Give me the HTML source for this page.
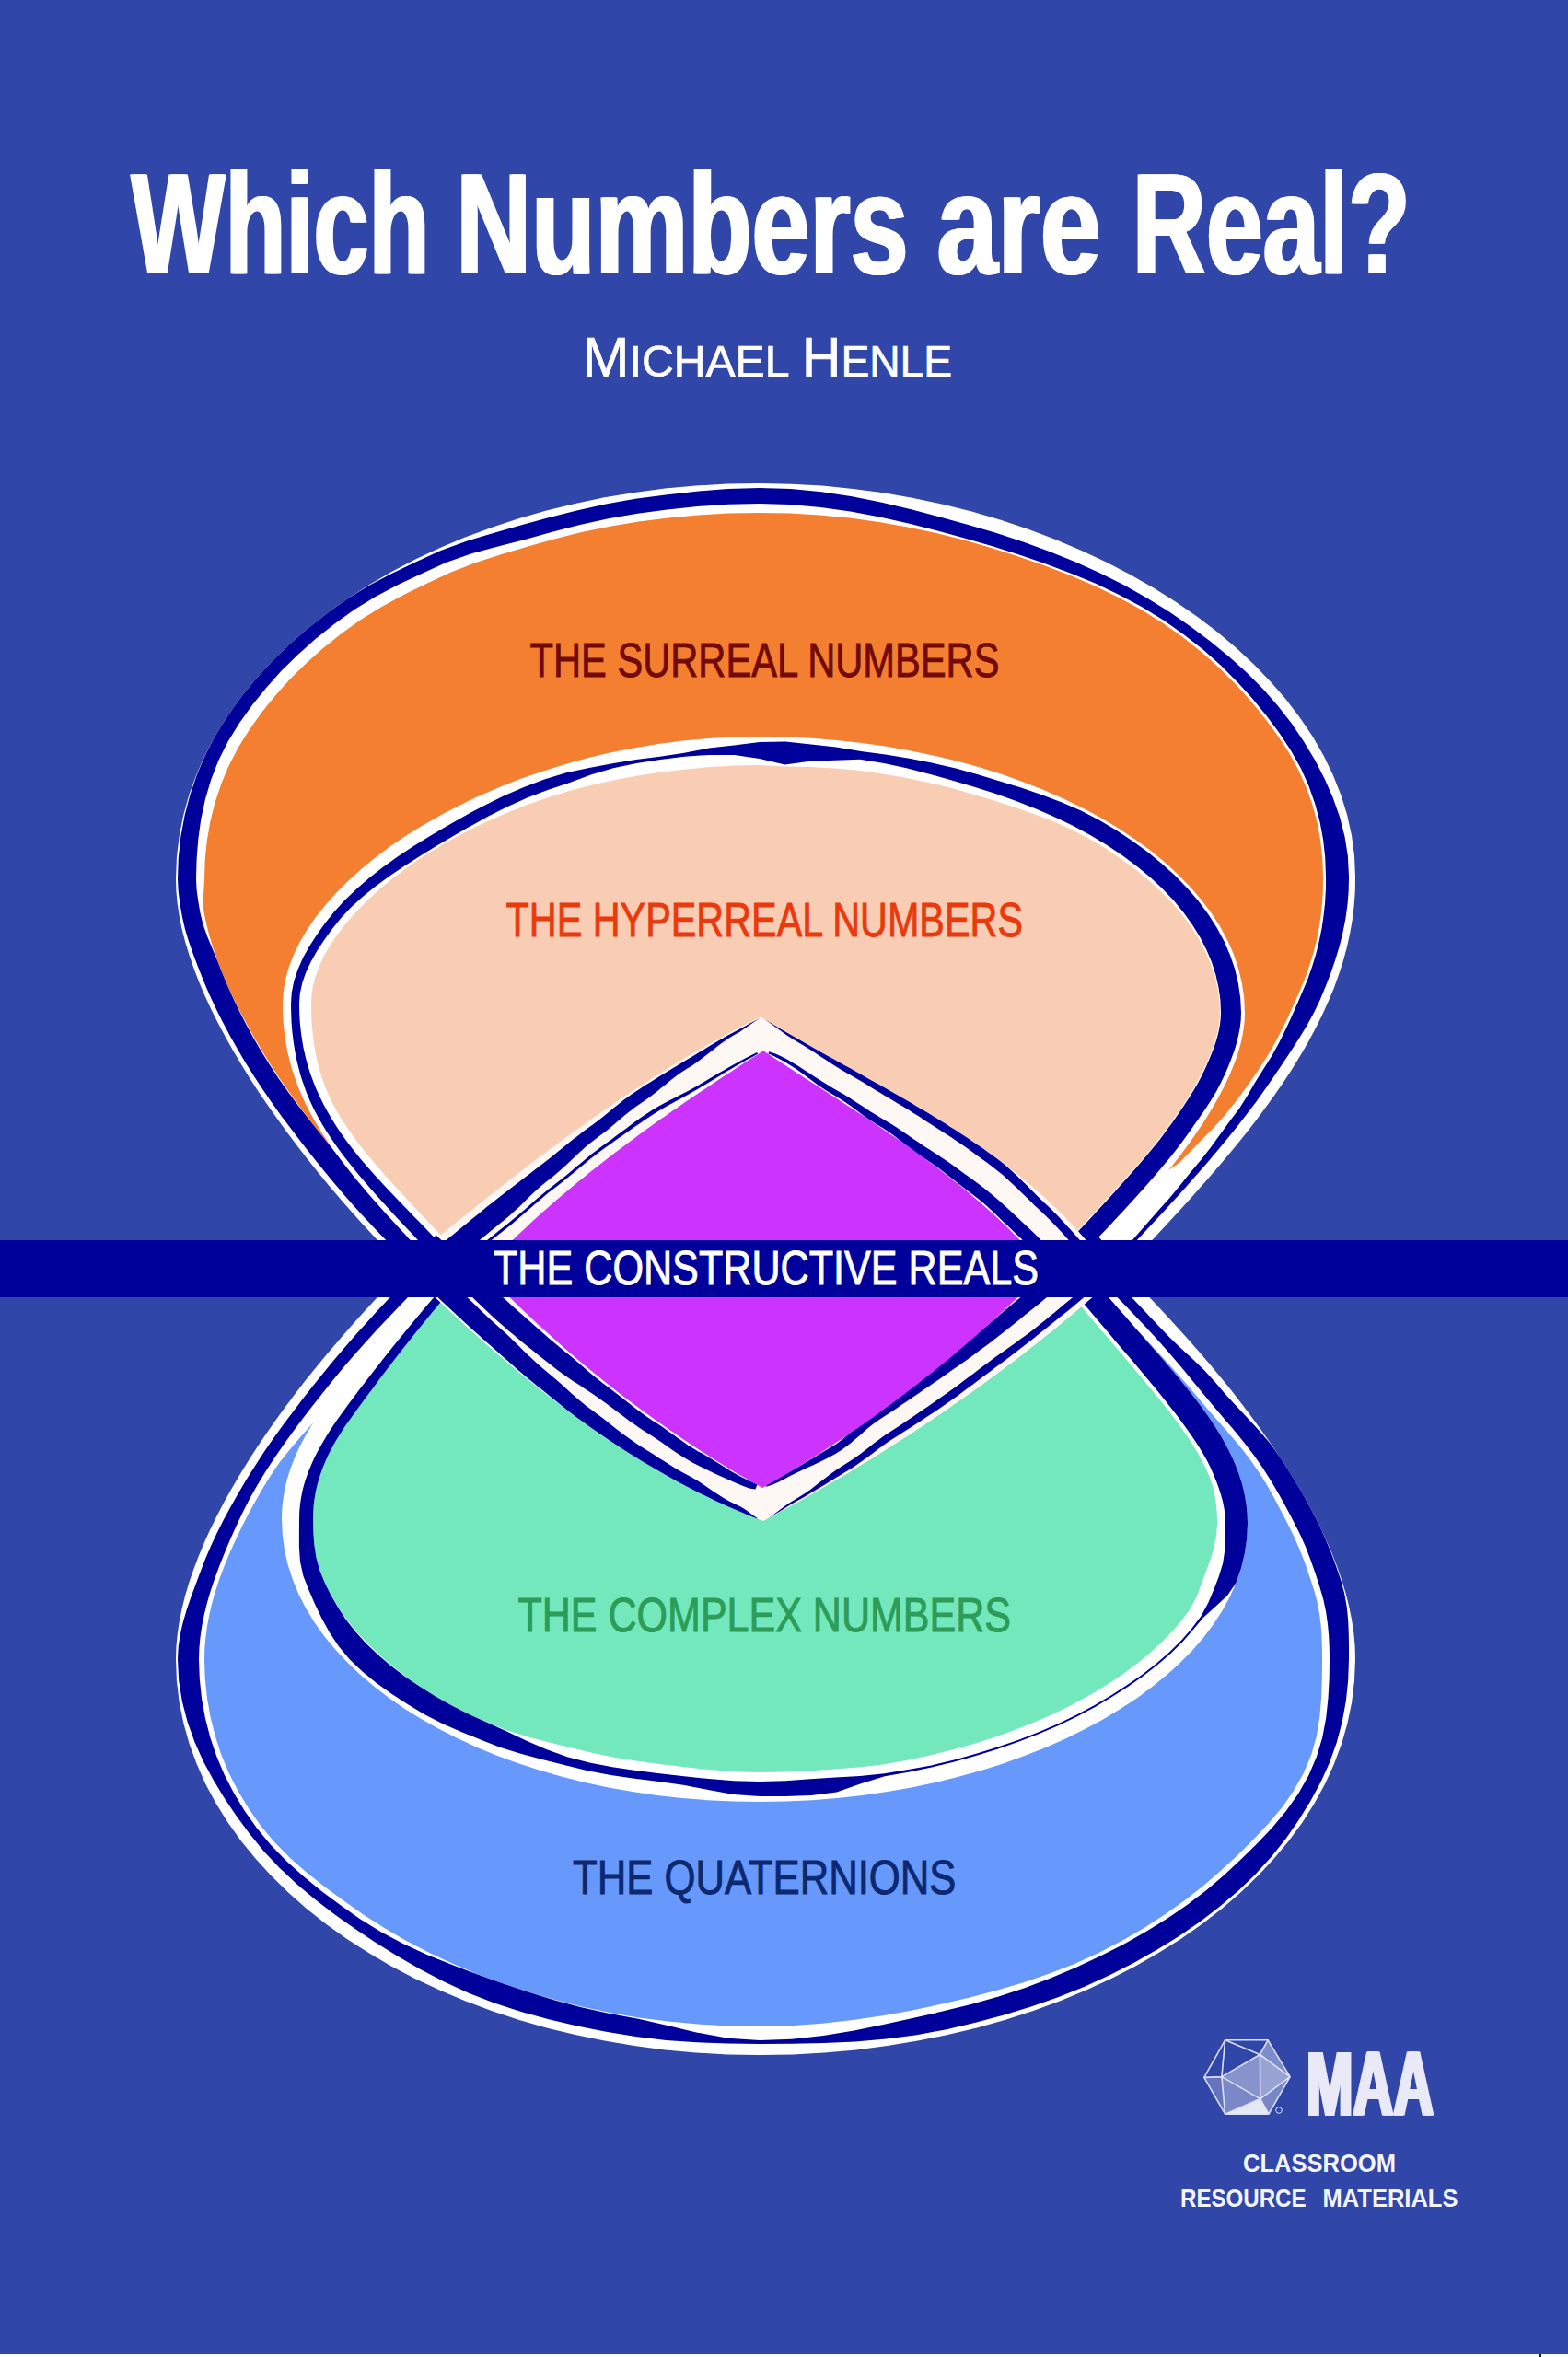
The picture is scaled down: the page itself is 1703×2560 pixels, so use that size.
<!DOCTYPE html>
<html><head><meta charset="utf-8"><title>Which Numbers are Real?</title>
<style>
html,body{margin:0;padding:0;background:#3046A8;}
body{width:1703px;height:2560px;overflow:hidden;font-family:"Liberation Sans",sans-serif;}
svg text{font-family:"Liberation Sans",sans-serif;}
</style></head><body>
<svg width="1703" height="2560" viewBox="0 0 1703 2560" style="display:block">
<rect width="1703" height="2560" fill="#3046A8"/>
<path d="M440.0 1378.0 L440.0 1378.0 L427.8 1390.4 L415.6 1403.0 L403.4 1416.0 L391.2 1429.2 L379.2 1442.7 L367.3 1456.4 L355.5 1470.3 L343.8 1484.4 L332.4 1498.6 L321.2 1513.0 L310.3 1527.6 L299.6 1542.2 L289.3 1557.0 L279.3 1571.8 L269.8 1586.6 L260.6 1601.5 L251.8 1616.4 L243.5 1631.3 L235.7 1646.2 L228.4 1661.0 L221.7 1675.7 L215.6 1690.4 L210.1 1704.9 L205.2 1719.3 L201.0 1733.6 L197.5 1747.7 L194.7 1761.6 L192.7 1775.3 L191.4 1788.8 L191.0 1802.0 L191.9 1825.5 L194.7 1848.8 L199.3 1871.6 L205.6 1894.1 L213.7 1916.1 L223.3 1937.7 L234.6 1958.8 L247.5 1979.4 L261.8 1999.4 L277.6 2018.8 L294.8 2037.6 L313.4 2055.7 L333.2 2073.2 L354.4 2089.9 L376.8 2105.9 L400.3 2121.0 L424.9 2135.4 L450.6 2148.9 L477.4 2161.5 L505.1 2173.2 L533.7 2183.9 L563.2 2193.7 L593.5 2202.4 L624.7 2210.0 L656.5 2216.6 L689.0 2222.1 L722.2 2226.4 L755.9 2229.5 L790.2 2231.4 L825.0 2232.0 L860.5 2231.4 L895.4 2229.5 L929.9 2226.4 L963.7 2222.1 L996.9 2216.6 L1029.4 2210.0 L1061.1 2202.4 L1092.1 2193.7 L1122.2 2183.9 L1151.4 2173.2 L1179.7 2161.5 L1207.0 2148.9 L1233.2 2135.4 L1258.4 2121.0 L1282.4 2105.9 L1305.2 2089.9 L1326.8 2073.2 L1347.1 2055.7 L1366.0 2037.6 L1383.6 2018.8 L1399.7 1999.4 L1414.4 1979.4 L1427.5 1958.8 L1439.0 1937.7 L1448.9 1916.1 L1457.1 1894.1 L1463.5 1871.6 L1468.2 1848.8 L1471.0 1825.5 L1472.0 1802.0 L1471.6 1787.9 L1470.3 1773.7 L1468.1 1759.3 L1465.2 1744.9 L1461.5 1730.3 L1457.1 1715.7 L1452.0 1700.9 L1446.2 1686.2 L1439.8 1671.4 L1432.8 1656.5 L1425.2 1641.7 L1417.2 1626.8 L1408.6 1612.0 L1399.5 1597.2 L1390.0 1582.5 L1380.1 1567.8 L1369.8 1553.3 L1359.2 1538.8 L1348.4 1524.4 L1337.2 1510.1 L1325.8 1496.0 L1314.2 1482.1 L1302.4 1468.3 L1290.5 1454.7 L1278.5 1441.4 L1266.4 1428.2 L1254.3 1415.3 L1242.1 1402.6 L1230.0 1390.1 L1218.0 1378.0 L1218.0 1378.0Z" fill="#FFFFFF"/>
<path d="M469.7 1378.0 L469.7 1407.7 L457.7 1419.6 L445.5 1431.5 L433.0 1443.6 L420.5 1455.7 L408.0 1468.1 L395.7 1480.8 L383.6 1493.8 L371.9 1507.2 L360.7 1520.9 L349.5 1534.6 L337.8 1547.9 L326.1 1561.1 L314.7 1574.4 L303.9 1588.0 L294.3 1602.1 L285.4 1616.5 L277.1 1630.9 L269.3 1645.3 L262.1 1659.5 L255.3 1673.7 L249.1 1687.7 L243.4 1701.5 L238.3 1715.1 L233.9 1728.4 L230.2 1741.5 L227.2 1754.4 L224.9 1766.9 L223.3 1779.0 L222.3 1790.7 L222.0 1802.0 L222.7 1823.1 L224.9 1843.9 L228.5 1864.6 L233.6 1885.1 L240.2 1905.4 L248.5 1925.4 L258.4 1945.1 L270.0 1964.3 L283.2 1983.0 L298.3 2000.9 L315.1 2018.0 L333.4 2034.1 L352.9 2049.6 L373.4 2064.6 L394.7 2079.4 L417.0 2093.8 L440.4 2107.4 L464.9 2120.2 L490.4 2132.3 L516.9 2143.5 L544.3 2153.7 L572.6 2163.2 L601.7 2171.8 L631.6 2179.6 L662.2 2186.1 L693.6 2191.4 L725.6 2195.5 L758.2 2198.6 L791.4 2200.4 L825.0 2201.0 L859.3 2200.2 L893.2 2197.8 L926.4 2194.0 L958.9 2189.2 L990.8 2183.4 L1022.0 2176.8 L1052.6 2169.7 L1082.5 2161.8 L1111.6 2153.2 L1139.9 2143.6 L1167.2 2132.9 L1193.4 2121.0 L1218.4 2108.1 L1242.3 2094.3 L1264.9 2079.6 L1286.4 2064.3 L1306.6 2048.4 L1325.6 2032.0 L1343.6 2015.4 L1360.7 1998.6 L1376.9 1981.6 L1391.7 1963.9 L1404.7 1945.4 L1415.7 1926.1 L1424.2 1905.9 L1430.0 1885.2 L1433.4 1864.2 L1435.1 1843.4 L1435.8 1822.7 L1436.0 1802.0 L1435.9 1790.1 L1435.5 1777.9 L1434.6 1765.2 L1433.0 1752.2 L1430.4 1738.9 L1426.7 1725.5 L1422.2 1711.9 L1417.4 1698.0 L1412.0 1683.9 L1405.8 1669.8 L1398.8 1655.6 L1391.4 1641.3 L1383.8 1626.8 L1375.6 1612.3 L1366.6 1597.9 L1356.8 1583.9 L1346.1 1570.3 L1334.8 1557.0 L1323.2 1543.8 L1311.6 1530.5 L1300.3 1517.0 L1288.9 1503.5 L1277.1 1490.2 L1265.3 1477.1 L1253.3 1464.2 L1241.5 1451.3 L1229.6 1438.6 L1217.7 1426.2 L1205.8 1414.0 L1194.0 1402.0 L1194.0 1378.0Z" fill="#6699FB"/>
<path d="M447.1 1385.1 L434.9 1397.3 L422.8 1409.9 L410.7 1422.8 L398.7 1435.9 L386.7 1449.3 L374.8 1462.9 L363.1 1476.7 L351.6 1490.7 L340.3 1504.8 L329.1 1519.1 L318.1 1533.4 L307.4 1547.7 L296.9 1562.2 L286.9 1576.8 L277.4 1591.4 L268.2 1606.1 L259.5 1620.8 L251.1 1635.4 L243.2 1650.0 L235.9 1664.5 L229.1 1678.9 L223.0 1693.3 L217.5 1707.6 L212.3 1721.6 L207.2 1735.3 L202.6 1748.8 L198.7 1762.3 L195.6 1775.7 L193.7 1788.9 L193.0 1802.0 L194.2 1825.4 L197.9 1848.3 L203.7 1870.6 L211.5 1892.2 L220.9 1913.2 L231.9 1933.5 L244.0 1953.4 L257.2 1972.9 L271.3 1992.1 L286.8 2010.9 L303.8 2028.9 L322.2 2046.2 L341.9 2062.8 L362.7 2078.8 L384.6 2094.3 L407.4 2109.4 L431.1 2124.2 L455.8 2138.6 L481.5 2152.1 L508.5 2164.5 L536.7 2175.4 L565.9 2184.9 L596.0 2193.3 L626.8 2200.5 L658.3 2206.8 L690.5 2212.1 L723.4 2215.9 L756.8 2218.3 L790.7 2219.6 L825.0 2220.0 L860.1 2219.8 L894.7 2219.0 L928.9 2217.4 L962.6 2214.6 L995.7 2210.3 L1028.1 2204.2 L1059.6 2196.7 L1090.5 2188.4 L1120.6 2179.2 L1149.8 2169.0 L1178.0 2157.7 L1205.2 2145.3 L1231.3 2131.9 L1256.4 2117.8 L1280.4 2103.0 L1303.3 2087.3 L1324.8 2070.8 L1345.1 2053.5 L1363.8 2035.4 L1381.0 2016.5 L1396.6 1996.9 L1410.6 1976.8 L1423.3 1956.3 L1434.5 1935.5 L1444.1 1914.2 L1451.8 1892.4 L1457.7 1870.2 L1461.8 1847.7 L1464.2 1825.0 L1465.0 1802.0 L1465.0 1788.3 L1464.8 1774.4 L1464.2 1760.0 L1462.8 1745.4 L1460.2 1730.7 L1456.2 1716.0 L1451.2 1701.2 L1445.7 1686.4 L1439.6 1671.5 L1432.8 1656.5 L1425.2 1641.7 L1417.2 1626.8 L1408.6 1612.0 L1399.5 1597.2 L1390.0 1582.5 L1379.7 1568.1 L1368.2 1554.4 L1356.0 1541.2 L1343.6 1528.1 L1331.3 1514.8 L1319.6 1501.1 L1307.5 1487.7 L1294.5 1475.2 L1281.1 1463.0 L1268.3 1450.6 L1256.1 1437.7 L1244.1 1424.9 L1232.1 1412.3 L1220.1 1400.0 L1208.1 1387.9 L1200.3 1395.7 L1212.2 1407.7 L1224.2 1419.9 L1236.1 1432.4 L1248.1 1445.2 L1260.0 1458.2 L1271.6 1471.5 L1283.1 1485.1 L1294.4 1498.8 L1305.7 1512.5 L1317.1 1526.2 L1328.6 1539.7 L1340.0 1553.1 L1351.2 1566.7 L1361.8 1580.5 L1371.6 1594.6 L1380.8 1609.0 L1389.3 1623.5 L1397.3 1638.0 L1404.9 1652.4 L1412.1 1666.7 L1418.4 1681.0 L1423.9 1695.4 L1428.8 1709.5 L1433.3 1723.4 L1437.2 1737.1 L1440.1 1750.6 L1442.0 1763.9 L1443.2 1777.0 L1443.8 1789.6 L1444.0 1802.0 L1443.7 1823.3 L1442.5 1844.6 L1440.2 1865.9 L1436.2 1887.2 L1429.9 1908.3 L1421.1 1928.8 L1409.9 1948.4 L1396.6 1967.2 L1381.6 1985.2 L1365.2 2002.6 L1347.8 2019.6 L1329.6 2036.5 L1310.3 2053.0 L1289.6 2068.8 L1267.7 2083.8 L1244.6 2098.1 L1220.4 2111.7 L1195.1 2124.6 L1168.9 2136.8 L1141.7 2148.3 L1113.5 2158.9 L1084.5 2168.5 L1054.5 2177.1 L1023.7 2184.6 L992.3 2191.7 L960.3 2198.8 L927.6 2205.5 L894.1 2211.0 L859.9 2214.7 L825.0 2216.0 L790.9 2213.7 L757.5 2207.7 L725.1 2200.0 L693.4 2192.8 L662.0 2187.1 L631.4 2180.3 L601.6 2172.2 L572.6 2163.3 L544.3 2153.7 L516.8 2143.8 L489.8 2133.6 L463.6 2122.9 L438.2 2111.3 L414.1 2098.5 L391.4 2084.4 L369.8 2069.3 L349.2 2054.0 L329.7 2038.1 L311.3 2021.6 L294.4 2004.3 L279.3 1986.0 L265.8 1967.1 L254.0 1947.6 L243.8 1927.7 L235.2 1907.4 L228.2 1886.8 L222.9 1866.0 L219.1 1844.9 L216.8 1823.6 L216.0 1802.0 L216.4 1790.3 L217.5 1778.3 L219.3 1765.9 L221.9 1753.2 L225.1 1740.2 L229.0 1726.9 L233.6 1713.4 L238.8 1699.6 L244.4 1685.6 L250.4 1671.3 L256.8 1656.9 L263.8 1642.3 L271.3 1627.6 L279.5 1612.9 L288.3 1598.4 L297.8 1583.9 L307.7 1569.6 L318.0 1555.3 L328.6 1541.1 L339.4 1527.0 L350.5 1512.9 L361.7 1498.9 L373.2 1485.1 L384.9 1471.5 L396.7 1458.2 L408.7 1445.0 L420.8 1432.2 L432.9 1419.5 L444.9 1407.1 L457.0 1395.0Z" fill="#00009A"/>
<path d="M478.0 1378.0 L478.0 1378.0 L468.3 1389.2 L458.7 1400.2 L449.4 1410.9 L440.2 1421.3 L431.2 1431.5 L422.5 1441.4 L414.0 1451.2 L405.7 1460.7 L397.6 1470.0 L389.9 1479.2 L382.3 1488.2 L375.1 1497.1 L368.2 1505.8 L361.6 1514.5 L355.2 1523.0 L349.3 1531.5 L343.6 1539.9 L338.3 1548.2 L333.4 1556.5 L328.8 1564.8 L324.6 1573.1 L320.8 1581.4 L317.5 1589.7 L314.5 1598.1 L311.9 1606.5 L309.8 1615.0 L308.2 1623.6 L307.0 1632.3 L306.2 1641.1 L306.0 1650.0 L306.8 1666.9 L309.0 1683.5 L312.8 1699.9 L318.0 1716.0 L324.5 1731.8 L332.4 1747.2 L341.6 1762.3 L352.1 1777.0 L363.9 1791.3 L376.8 1805.1 L390.8 1818.6 L406.0 1831.5 L422.3 1843.9 L439.6 1855.9 L457.9 1867.2 L477.1 1878.1 L497.3 1888.3 L518.3 1897.9 L540.2 1906.9 L562.9 1915.2 L586.3 1922.8 L610.5 1929.7 L635.3 1935.9 L660.8 1941.4 L686.9 1946.1 L713.6 1949.9 L740.7 1953.0 L768.4 1955.2 L796.5 1956.5 L825.0 1957.0 L853.5 1956.5 L881.6 1955.2 L909.3 1953.0 L936.7 1950.0 L963.6 1946.1 L989.9 1941.4 L1015.8 1936.0 L1041.0 1929.8 L1065.6 1923.0 L1089.5 1915.4 L1112.7 1907.1 L1135.1 1898.2 L1156.7 1888.7 L1177.4 1878.6 L1197.2 1867.9 L1216.1 1856.6 L1234.0 1844.9 L1250.8 1832.6 L1266.5 1819.8 L1281.1 1806.6 L1294.6 1793.0 L1306.8 1779.0 L1317.7 1764.5 L1327.3 1749.8 L1335.6 1734.7 L1342.5 1719.2 L1347.9 1703.6 L1351.8 1687.6 L1354.2 1671.4 L1355.0 1655.0 L1354.7 1645.6 L1353.9 1636.3 L1352.5 1627.2 L1350.7 1618.2 L1348.3 1609.3 L1345.4 1600.5 L1342.1 1591.7 L1338.3 1583.1 L1334.2 1574.4 L1329.6 1565.9 L1324.6 1557.3 L1319.2 1548.7 L1313.5 1540.1 L1307.4 1531.5 L1301.0 1522.9 L1294.3 1514.2 L1287.3 1505.4 L1280.0 1496.5 L1272.5 1487.6 L1264.8 1478.5 L1256.8 1469.3 L1248.6 1459.9 L1240.3 1450.4 L1231.7 1440.7 L1223.1 1430.8 L1214.2 1420.7 L1205.3 1410.4 L1196.3 1399.9 L1187.2 1389.1 L1178.0 1378.0 L1178.0 1378.0Z" fill="#FFFFFF"/>
<path d="M496.2 1378.0 L496.2 1393.6 L486.5 1405.0 L477.0 1416.2 L467.9 1427.2 L459.1 1437.9 L450.6 1448.5 L442.3 1458.9 L434.4 1469.0 L426.7 1478.9 L419.4 1488.6 L412.2 1498.0 L405.4 1507.2 L398.8 1516.1 L392.4 1524.7 L386.3 1533.1 L380.4 1541.2 L374.8 1549.1 L369.7 1556.9 L365.0 1564.6 L360.7 1572.2 L356.9 1579.6 L353.5 1587.0 L350.5 1594.2 L348.0 1601.4 L345.8 1608.4 L344.0 1615.3 L342.5 1622.2 L341.4 1629.1 L340.6 1636.0 L340.2 1642.9 L340.0 1650.0 L340.3 1663.8 L341.3 1677.6 L343.4 1691.5 L347.1 1705.2 L352.6 1718.7 L359.3 1732.1 L367.2 1745.4 L376.2 1758.5 L386.5 1771.4 L398.1 1784.0 L410.9 1796.3 L424.7 1808.4 L439.6 1820.1 L455.5 1831.5 L472.6 1842.3 L490.8 1852.5 L509.9 1862.2 L529.9 1871.3 L550.9 1879.4 L572.9 1886.2 L595.7 1892.2 L619.0 1898.0 L642.8 1903.8 L667.2 1908.7 L692.3 1912.8 L717.9 1916.2 L744.0 1919.3 L770.5 1922.1 L797.5 1924.2 L825.0 1925.0 L852.4 1924.6 L879.5 1923.3 L906.3 1921.4 L932.8 1919.5 L958.8 1916.5 L984.3 1912.0 L1009.1 1906.8 L1033.4 1900.8 L1057.0 1894.2 L1080.0 1886.9 L1102.1 1879.0 L1123.5 1870.5 L1144.1 1861.5 L1163.7 1851.9 L1182.4 1841.8 L1200.2 1831.2 L1216.9 1820.2 L1232.5 1808.8 L1247.0 1797.0 L1260.4 1785.0 L1272.6 1772.6 L1283.5 1760.0 L1293.0 1747.1 L1300.0 1733.4 L1305.2 1719.6 L1309.9 1706.4 L1314.6 1693.7 L1318.4 1681.0 L1321.0 1668.1 L1322.0 1655.0 L1321.9 1647.5 L1321.5 1640.2 L1320.7 1632.9 L1319.6 1625.6 L1318.1 1618.2 L1316.0 1610.8 L1313.4 1603.4 L1310.2 1596.0 L1306.6 1588.6 L1302.5 1581.0 L1298.0 1573.3 L1293.2 1565.6 L1287.9 1557.7 L1282.3 1549.7 L1276.3 1541.6 L1269.9 1533.3 L1263.3 1524.8 L1256.3 1516.2 L1249.1 1507.4 L1241.7 1498.4 L1233.9 1489.2 L1226.0 1479.8 L1217.8 1470.1 L1209.4 1460.3 L1200.9 1450.3 L1192.1 1440.0 L1183.2 1429.5 L1174.1 1418.7 L1164.9 1407.7 L1155.6 1396.4 L1155.6 1378.0Z" fill="#73E8BC"/>
<path d="M489.4 1387.8 L479.7 1399.1 L470.2 1410.2 L461.0 1421.1 L452.1 1431.8 L443.4 1442.2 L435.0 1452.5 L426.9 1462.5 L419.1 1472.3 L411.5 1481.9 L404.2 1491.3 L397.1 1500.4 L390.3 1509.3 L383.8 1518.0 L377.5 1526.5 L371.5 1534.7 L365.7 1542.8 L360.3 1550.8 L355.3 1558.6 L350.6 1566.4 L346.3 1574.0 L342.3 1581.6 L338.8 1589.2 L335.6 1596.7 L332.9 1604.1 L330.5 1611.6 L328.5 1619.1 L327.0 1626.7 L325.9 1634.4 L325.2 1642.1 L325.0 1650.0 L324.9 1665.2 L324.9 1680.6 L326.0 1696.3 L329.4 1711.8 L335.3 1726.8 L341.9 1741.9 L349.2 1757.3 L357.7 1772.8 L367.8 1787.9 L379.7 1802.2 L393.6 1815.5 L408.9 1828.0 L425.3 1839.8 L442.7 1851.0 L460.9 1862.1 L480.3 1872.1 L500.9 1880.9 L521.9 1889.6 L543.6 1898.0 L566.4 1905.1 L589.8 1911.3 L613.8 1917.3 L638.3 1923.2 L663.4 1928.0 L689.2 1931.8 L715.5 1935.1 L742.1 1938.7 L769.1 1943.9 L796.7 1948.9 L825.0 1951.0 L853.3 1950.9 L881.3 1950.1 L908.7 1946.6 L935.1 1937.3 L960.9 1929.3 L986.7 1924.7 L1012.0 1919.4 L1036.7 1913.4 L1060.8 1906.8 L1084.2 1899.5 L1106.9 1891.6 L1128.8 1883.1 L1149.9 1874.0 L1170.1 1864.3 L1189.4 1854.0 L1207.7 1843.1 L1225.1 1832.0 L1241.5 1820.4 L1256.9 1808.5 L1271.1 1796.2 L1284.2 1783.4 L1295.9 1770.1 L1306.8 1756.9 L1319.8 1745.2 L1332.9 1733.3 L1342.4 1719.2 L1347.9 1703.6 L1351.8 1687.6 L1354.2 1671.4 L1355.0 1655.0 L1354.7 1645.6 L1353.9 1636.3 L1352.5 1627.2 L1350.7 1618.2 L1348.3 1609.3 L1345.4 1600.5 L1342.1 1591.7 L1338.3 1583.1 L1334.2 1574.4 L1329.6 1565.9 L1324.6 1557.3 L1319.2 1548.7 L1313.5 1540.1 L1307.4 1531.5 L1301.0 1522.9 L1294.3 1514.2 L1287.3 1505.4 L1280.0 1496.5 L1272.5 1487.6 L1264.8 1478.5 L1256.8 1469.3 L1248.6 1459.9 L1240.3 1450.4 L1231.7 1440.7 L1223.1 1430.8 L1214.2 1420.7 L1205.3 1410.4 L1196.3 1399.9 L1187.2 1389.1 L1178.0 1378.0 L1158.7 1393.9 L1168.0 1405.1 L1177.2 1416.1 L1186.2 1426.8 L1195.1 1437.3 L1203.9 1447.6 L1212.4 1457.7 L1220.8 1467.5 L1229.0 1477.1 L1237.0 1486.5 L1244.7 1495.8 L1252.2 1504.8 L1259.4 1513.6 L1266.4 1522.3 L1273.1 1530.8 L1279.5 1539.1 L1285.5 1547.3 L1291.3 1555.3 L1296.8 1563.2 L1301.9 1571.0 L1306.6 1578.7 L1310.9 1586.3 L1314.7 1593.9 L1318.0 1601.5 L1321.1 1609.0 L1323.8 1616.5 L1326.2 1624.0 L1328.2 1631.5 L1329.7 1639.2 L1330.7 1647.0 L1331.0 1655.0 L1330.9 1669.1 L1330.3 1683.4 L1328.2 1697.7 L1323.9 1711.9 L1318.4 1726.2 L1312.3 1740.8 L1304.5 1755.2 L1294.3 1768.8 L1282.7 1782.0 L1269.7 1794.7 L1255.6 1807.0 L1240.3 1818.9 L1223.9 1830.3 L1206.6 1841.4 L1188.4 1852.2 L1169.2 1862.5 L1149.1 1872.2 L1128.0 1881.3 L1106.2 1889.8 L1083.5 1897.6 L1060.2 1904.8 L1036.2 1911.5 L1011.5 1917.4 L986.2 1922.1 L960.4 1926.3 L934.0 1929.1 L907.2 1930.5 L880.1 1932.3 L852.7 1934.2 L825.0 1935.0 L797.2 1934.2 L769.9 1932.1 L743.0 1929.2 L716.6 1926.2 L690.7 1922.9 L665.2 1919.2 L640.3 1914.4 L616.2 1908.3 L593.3 1900.1 L571.4 1890.5 L550.4 1880.6 L529.9 1871.3 L509.9 1862.2 L490.8 1852.5 L472.6 1842.3 L455.5 1831.6 L439.3 1820.5 L424.2 1808.9 L410.3 1797.0 L397.4 1784.7 L385.9 1772.0 L375.7 1758.9 L366.9 1745.6 L359.2 1732.2 L352.6 1718.7 L347.1 1705.2 L343.4 1691.5 L341.3 1677.6 L340.3 1663.8 L340.0 1650.0 L340.2 1642.9 L340.6 1636.0 L341.4 1629.1 L342.5 1622.2 L344.0 1615.3 L345.8 1608.4 L348.0 1601.4 L350.5 1594.2 L353.5 1587.0 L356.9 1579.6 L360.7 1572.2 L365.0 1564.6 L369.7 1556.9 L374.8 1549.1 L380.4 1541.2 L386.3 1533.1 L392.4 1524.7 L398.8 1516.1 L405.4 1507.2 L412.2 1498.0 L419.4 1488.6 L426.7 1478.9 L434.4 1469.0 L442.3 1458.9 L450.6 1448.5 L459.1 1437.9 L467.9 1427.2 L477.0 1416.2 L486.5 1405.0 L496.2 1393.6Z" fill="#00009A"/>
<path d="M440.0 1378.0 L440.0 1378.0 L428.2 1366.0 L416.3 1353.7 L404.4 1341.0 L392.4 1328.0 L380.6 1314.7 L368.8 1301.2 L357.1 1287.4 L345.6 1273.4 L334.2 1259.2 L323.0 1244.8 L312.1 1230.2 L301.4 1215.6 L291.0 1200.8 L280.9 1185.9 L271.2 1171.0 L262.0 1156.0 L253.1 1141.1 L244.7 1126.1 L236.7 1111.1 L229.3 1096.2 L222.5 1081.4 L216.2 1066.7 L210.6 1052.1 L205.6 1037.6 L201.2 1023.3 L197.6 1009.2 L194.8 995.2 L192.7 981.6 L191.4 968.1 L191.0 955.0 L191.9 931.4 L194.7 908.1 L199.3 885.1 L205.6 862.6 L213.7 840.5 L223.3 818.9 L234.6 797.8 L247.5 777.2 L261.8 757.2 L277.6 737.7 L294.8 719.0 L313.4 700.8 L333.2 683.4 L354.4 666.7 L376.8 650.8 L400.3 635.6 L424.9 621.3 L450.6 607.8 L477.4 595.2 L505.1 583.6 L533.7 572.9 L563.2 563.2 L593.5 554.5 L624.7 546.9 L656.5 540.3 L689.0 534.9 L722.2 530.6 L755.9 527.5 L790.2 525.6 L825.0 525.0 L859.2 525.7 L893.0 527.6 L926.5 530.9 L959.5 535.3 L992.0 540.9 L1024.0 547.7 L1055.4 555.6 L1086.1 564.5 L1116.0 574.5 L1145.2 585.5 L1173.5 597.4 L1200.9 610.2 L1227.4 623.9 L1252.8 638.4 L1277.1 653.8 L1300.3 669.8 L1322.3 686.6 L1343.0 704.1 L1362.5 722.2 L1380.5 740.9 L1397.1 760.1 L1412.2 779.9 L1425.7 800.1 L1437.6 820.8 L1447.9 841.9 L1456.4 863.4 L1463.1 885.1 L1468.0 907.2 L1471.0 929.5 L1472.0 952.0 L1471.8 967.7 L1470.7 983.3 L1468.8 998.8 L1466.1 1014.2 L1462.7 1029.4 L1458.6 1044.5 L1453.7 1059.5 L1448.3 1074.4 L1442.1 1089.1 L1435.4 1103.8 L1428.1 1118.3 L1420.3 1132.8 L1412.0 1147.1 L1403.1 1161.4 L1393.9 1175.5 L1384.2 1189.6 L1374.1 1203.5 L1363.7 1217.4 L1353.0 1231.2 L1341.9 1244.9 L1330.6 1258.5 L1319.1 1272.1 L1307.3 1285.5 L1295.4 1298.9 L1283.4 1312.3 L1271.2 1325.5 L1258.9 1338.7 L1246.6 1351.9 L1234.3 1365.0 L1222.0 1378.0 L1222.0 1378.0Z" fill="#FFFFFF"/>
<path d="M472.5 1378.0 L472.5 1345.5 L460.6 1334.4 L447.8 1323.7 L434.4 1313.1 L421.0 1302.2 L408.1 1290.5 L396.1 1277.7 L383.2 1265.6 L368.8 1254.5 L356.2 1241.8 L345.2 1227.8 L334.4 1213.7 L323.7 1199.6 L313.4 1185.3 L303.5 1171.0 L294.0 1156.5 L285.0 1142.0 L276.5 1127.6 L268.4 1113.1 L260.8 1098.8 L253.7 1084.5 L247.2 1070.4 L241.2 1056.5 L235.9 1042.8 L231.3 1029.3 L227.3 1016.0 L224.0 1003.1 L221.4 990.5 L220.5 978.1 L221.4 966.2 L222.0 955.0 L222.7 933.8 L224.8 912.9 L228.4 892.1 L233.6 871.6 L240.3 851.3 L248.7 831.3 L258.9 811.8 L270.7 792.8 L284.0 774.1 L298.6 755.9 L314.6 738.1 L331.9 720.9 L350.6 704.3 L370.6 688.3 L391.9 673.1 L414.6 658.9 L438.5 645.9 L463.5 633.7 L489.2 621.8 L516.1 611.3 L544.0 602.2 L572.6 593.7 L601.8 585.4 L631.7 578.1 L662.4 571.8 L693.7 566.5 L725.7 562.4 L758.3 559.4 L791.4 557.6 L825.0 557.0 L857.9 557.6 L890.5 559.5 L922.8 562.6 L954.6 566.9 L986.0 572.4 L1016.8 578.9 L1047.0 586.5 L1076.5 595.0 L1105.5 604.2 L1133.8 614.1 L1161.4 624.6 L1188.2 636.0 L1214.1 648.4 L1238.8 661.8 L1262.2 676.3 L1284.3 691.8 L1305.0 708.2 L1324.2 725.3 L1342.0 743.0 L1358.3 761.1 L1373.3 779.4 L1387.0 797.9 L1399.4 816.5 L1409.9 835.5 L1418.6 854.8 L1425.5 874.3 L1430.7 893.7 L1434.2 913.2 L1436.3 932.6 L1437.0 952.4 L1436.9 966.3 L1436.1 980.0 L1434.7 993.8 L1432.6 1007.5 L1429.9 1021.2 L1426.5 1034.9 L1422.3 1048.6 L1417.5 1062.3 L1411.9 1075.9 L1405.8 1089.6 L1399.5 1103.4 L1392.8 1117.3 L1385.6 1131.3 L1377.7 1145.1 L1369.0 1158.8 L1359.7 1172.3 L1350.0 1185.7 L1339.9 1199.2 L1329.4 1212.5 L1317.8 1225.2 L1305.6 1237.5 L1293.4 1250.0 L1281.3 1262.6 L1266.4 1272.9 L1251.3 1283.1 L1238.7 1295.6 L1225.7 1307.7 L1212.0 1319.4 L1198.5 1331.1 L1185.7 1343.6 L1185.7 1378.0Z" fill="#F47F31"/>
<path d="M444.9 1373.1 L433.1 1361.2 L421.2 1349.0 L409.1 1336.6 L397.1 1323.8 L385.1 1310.7 L373.3 1297.3 L361.7 1283.5 L350.2 1269.6 L338.9 1255.4 L327.7 1241.2 L316.7 1226.8 L305.8 1212.4 L295.3 1197.8 L285.2 1183.1 L275.5 1168.3 L266.2 1153.4 L257.4 1138.6 L249.1 1123.7 L241.2 1108.8 L233.8 1094.1 L227.1 1079.4 L220.8 1064.8 L215.2 1050.4 L209.8 1036.2 L204.9 1022.2 L200.8 1008.4 L197.7 994.7 L195.4 981.2 L193.7 968.0 L193.0 955.0 L193.8 931.5 L196.4 908.3 L200.6 885.4 L206.5 862.9 L214.1 840.7 L223.5 819.0 L234.6 797.8 L247.5 777.2 L261.8 757.2 L277.6 737.7 L294.8 719.0 L313.4 700.8 L333.2 683.4 L354.4 666.7 L376.8 650.8 L400.6 636.1 L425.8 622.8 L451.9 610.3 L478.6 598.1 L506.7 587.7 L535.8 578.9 L565.5 570.6 L595.6 562.2 L626.4 554.4 L657.8 547.5 L690.1 541.8 L723.0 537.4 L756.4 533.7 L790.4 531.0 L825.0 530.0 L858.9 531.1 L892.5 534.3 L925.5 539.3 L957.9 545.7 L989.7 553.2 L1020.8 561.4 L1051.5 570.0 L1081.6 578.8 L1111.1 588.5 L1139.8 599.0 L1167.8 610.3 L1194.9 622.5 L1221.0 635.6 L1246.1 649.7 L1270.0 664.6 L1292.7 680.3 L1314.4 696.5 L1334.9 713.3 L1354.1 730.6 L1372.0 748.6 L1388.4 767.2 L1403.2 786.3 L1416.4 805.9 L1428.3 825.8 L1438.7 845.9 L1447.7 866.4 L1455.0 887.3 L1460.5 908.5 L1463.9 930.1 L1465.0 952.1 L1464.7 967.4 L1463.5 982.6 L1461.4 997.7 L1458.5 1012.6 L1454.8 1027.4 L1450.4 1042.1 L1445.5 1056.6 L1439.9 1071.1 L1433.9 1085.5 L1427.1 1099.8 L1419.5 1113.8 L1411.1 1127.6 L1402.3 1141.3 L1393.2 1155.0 L1383.9 1168.8 L1374.4 1182.6 L1364.5 1196.4 L1354.2 1210.1 L1343.6 1223.7 L1332.6 1237.3 L1321.4 1250.8 L1310.0 1264.2 L1298.3 1277.6 L1286.5 1290.9 L1274.5 1304.2 L1262.4 1317.4 L1250.2 1330.6 L1237.9 1343.7 L1225.6 1356.7 L1213.3 1369.8 L1211.1 1367.7 L1223.2 1354.5 L1235.1 1341.1 L1246.9 1327.5 L1258.7 1314.1 L1270.7 1300.7 L1282.0 1286.9 L1293.2 1273.1 L1304.6 1259.6 L1315.3 1245.7 L1325.6 1231.5 L1335.8 1217.6 L1346.0 1203.9 L1355.1 1189.5 L1363.5 1175.0 L1372.3 1161.0 L1381.0 1147.2 L1388.8 1133.2 L1395.9 1119.1 L1402.4 1104.9 L1408.6 1090.9 L1414.6 1077.1 L1420.3 1063.4 L1425.2 1049.6 L1429.4 1035.8 L1432.8 1021.9 L1435.6 1008.1 L1437.6 994.2 L1439.1 980.3 L1439.9 966.4 L1440.0 952.4 L1439.3 932.3 L1437.2 912.7 L1433.6 893.0 L1428.3 873.3 L1421.4 853.6 L1412.6 834.1 L1401.9 814.9 L1389.4 796.1 L1375.6 777.5 L1360.5 759.1 L1344.1 740.9 L1326.2 723.1 L1306.9 705.8 L1286.1 689.4 L1263.9 673.8 L1240.3 659.2 L1215.4 645.9 L1189.4 633.6 L1162.4 622.4 L1134.6 612.0 L1106.2 602.3 L1077.1 593.1 L1047.5 584.5 L1017.4 576.2 L986.7 568.4 L955.5 561.4 L923.6 555.5 L891.2 550.9 L858.3 548.0 L825.0 547.0 L791.0 547.8 L757.6 550.0 L724.7 553.4 L692.4 557.7 L660.8 563.2 L629.9 570.0 L599.7 577.7 L570.2 585.9 L540.9 593.4 L512.1 601.3 L484.4 610.9 L458.1 622.9 L432.5 635.1 L407.9 648.0 L384.6 662.3 L362.8 677.9 L342.3 694.3 L323.1 711.4 L305.2 729.1 L288.8 747.4 L273.6 766.2 L259.9 785.5 L247.7 805.3 L237.4 825.8 L229.2 846.8 L222.9 868.2 L218.3 889.7 L215.3 911.3 L213.6 933.1 L213.0 955.0 L213.6 966.7 L215.3 978.8 L217.4 991.2 L220.5 1003.9 L225.0 1016.7 L230.3 1029.6 L235.8 1042.8 L241.2 1056.5 L247.1 1070.5 L253.5 1084.7 L260.4 1099.0 L267.8 1113.4 L275.7 1128.0 L284.2 1142.5 L293.2 1157.1 L302.7 1171.5 L312.8 1185.7 L323.3 1199.9 L334.2 1213.9 L345.1 1227.8 L356.2 1241.8 L367.5 1255.6 L379.2 1268.9 L390.8 1282.3 L402.4 1295.5 L414.3 1308.2 L426.3 1320.6 L438.4 1332.6 L450.3 1344.5 L461.9 1356.1Z" fill="#00009A"/>
<path d="M475.0 1378.0 L475.0 1378.0 L464.7 1367.1 L454.7 1356.5 L445.0 1346.2 L435.6 1336.0 L426.4 1326.1 L417.6 1316.4 L409.0 1306.8 L400.8 1297.4 L392.8 1288.1 L385.2 1278.9 L377.9 1269.8 L370.9 1260.8 L364.3 1251.8 L358.0 1242.9 L352.0 1234.0 L346.4 1225.1 L341.1 1216.2 L336.2 1207.2 L331.6 1198.2 L327.4 1189.1 L323.6 1179.9 L320.2 1170.6 L317.1 1161.2 L314.5 1151.6 L312.2 1141.9 L310.4 1132.0 L308.9 1121.8 L307.8 1111.5 L307.2 1100.9 L307.0 1090.0 L307.8 1076.8 L310.1 1063.5 L313.9 1050.0 L319.1 1036.5 L325.7 1023.0 L333.7 1009.5 L343.0 996.1 L353.6 982.8 L365.4 969.6 L378.4 956.6 L392.6 943.8 L407.8 931.3 L424.2 919.1 L441.5 907.3 L459.9 895.9 L479.2 884.9 L499.4 874.4 L520.4 864.4 L542.3 854.9 L564.9 846.1 L588.3 837.9 L612.4 830.4 L637.1 823.6 L662.5 817.6 L688.4 812.4 L714.8 808.0 L741.7 804.6 L769.1 802.1 L796.9 800.5 L825.0 800.0 L853.3 800.4 L881.4 801.8 L909.0 803.9 L936.2 807.0 L963.0 810.8 L989.2 815.4 L1014.9 820.7 L1040.1 826.8 L1064.5 833.6 L1088.3 841.1 L1111.3 849.3 L1133.6 858.1 L1155.1 867.5 L1175.7 877.5 L1195.4 888.1 L1214.1 899.3 L1231.9 910.9 L1248.6 923.1 L1264.2 935.8 L1278.7 948.9 L1292.0 962.4 L1304.1 976.4 L1315.0 990.7 L1324.6 1005.4 L1332.8 1020.5 L1339.6 1035.8 L1344.9 1051.5 L1348.8 1067.4 L1351.2 1083.6 L1352.0 1100.0 L1351.7 1108.1 L1350.8 1116.4 L1349.4 1124.8 L1347.5 1133.5 L1345.0 1142.3 L1342.0 1151.2 L1338.5 1160.2 L1334.6 1169.4 L1330.2 1178.7 L1325.4 1188.1 L1320.2 1197.5 L1314.6 1207.1 L1308.6 1216.7 L1302.3 1226.3 L1295.6 1236.0 L1288.6 1245.7 L1281.4 1255.4 L1273.8 1265.2 L1266.0 1274.9 L1257.9 1284.6 L1249.6 1294.3 L1241.1 1303.9 L1232.5 1313.5 L1223.6 1323.0 L1214.6 1332.4 L1205.5 1341.7 L1196.2 1351.0 L1186.9 1360.1 L1177.5 1369.1 L1168.0 1378.0 L1168.0 1378.0Z" fill="#FFFFFF"/>
<path d="M495.3 1378.0 L495.3 1358.8 L485.1 1347.9 L475.1 1337.4 L465.3 1327.2 L455.9 1317.2 L446.7 1307.5 L437.9 1298.1 L429.3 1288.8 L421.1 1279.8 L413.3 1270.9 L405.7 1262.1 L398.6 1253.5 L391.8 1245.0 L385.4 1236.5 L379.4 1228.1 L373.8 1219.8 L368.6 1211.5 L363.9 1203.2 L359.6 1194.9 L355.8 1186.5 L352.4 1178.2 L349.4 1169.8 L346.9 1161.4 L344.7 1152.9 L342.9 1144.4 L341.3 1135.8 L340.1 1127.0 L339.2 1118.1 L338.5 1109.0 L338.1 1099.6 L338.0 1090.0 L338.5 1080.4 L340.1 1070.3 L342.9 1059.8 L347.0 1048.8 L352.3 1037.4 L359.0 1025.8 L367.1 1014.0 L376.5 1002.1 L387.1 990.2 L398.9 978.2 L411.8 966.2 L425.9 954.5 L441.1 942.9 L457.4 931.6 L474.7 920.8 L493.0 910.3 L512.3 900.3 L532.4 890.8 L553.3 881.7 L575.0 873.3 L597.4 865.4 L620.6 858.3 L644.5 852.3 L668.9 846.9 L693.8 842.3 L719.3 838.6 L745.1 835.4 L771.4 833.0 L798.0 831.5 L825.0 831.0 L852.3 832.4 L879.4 832.9 L906.1 834.5 L932.5 836.7 L958.3 840.4 L983.6 844.8 L1008.4 850.0 L1032.5 855.8 L1056.0 862.4 L1078.9 869.3 L1101.2 876.4 L1122.8 883.9 L1143.8 892.0 L1163.7 900.9 L1182.6 910.8 L1200.3 921.3 L1217.0 932.4 L1232.7 943.8 L1247.2 955.7 L1260.5 967.8 L1272.7 980.3 L1283.6 993.1 L1293.3 1006.0 L1301.7 1019.1 L1308.8 1032.3 L1314.6 1045.7 L1319.1 1059.1 L1322.4 1072.6 L1324.3 1086.2 L1325.0 1100.0 L1324.7 1106.2 L1324.0 1112.7 L1322.7 1119.5 L1320.9 1126.7 L1318.6 1134.1 L1315.9 1141.8 L1312.7 1149.8 L1309.1 1157.9 L1305.1 1166.3 L1300.6 1174.9 L1295.6 1183.6 L1290.2 1192.3 L1284.4 1201.2 L1278.3 1210.2 L1271.9 1219.3 L1265.2 1228.5 L1258.2 1237.8 L1250.8 1247.0 L1243.1 1256.2 L1235.2 1265.4 L1227.1 1274.6 L1218.8 1283.9 L1210.4 1293.2 L1201.9 1302.5 L1193.4 1311.9 L1184.8 1321.3 L1176.1 1330.6 L1167.2 1339.8 L1158.2 1348.7 L1149.0 1357.5 L1149.0 1378.0Z" fill="#F9CDB4"/>
<path d="M479.4 1373.9 L469.1 1363.0 L459.1 1352.5 L449.3 1342.1 L439.9 1332.1 L430.7 1322.2 L421.8 1312.6 L413.2 1303.1 L404.9 1293.8 L396.9 1284.6 L389.3 1275.6 L382.0 1266.6 L375.0 1257.7 L368.4 1248.9 L362.1 1240.1 L356.2 1231.3 L350.7 1222.5 L345.6 1213.6 L340.9 1204.7 L336.7 1195.7 L332.9 1186.7 L329.6 1177.6 L326.6 1168.4 L324.1 1159.1 L321.9 1149.7 L320.1 1140.2 L318.6 1130.6 L317.4 1120.8 L316.6 1110.8 L316.2 1100.5 L316.0 1090.0 L316.8 1077.9 L319.3 1065.6 L323.4 1053.2 L328.8 1040.8 L335.6 1028.4 L343.6 1015.9 L352.6 1003.2 L362.8 990.5 L374.2 978.0 L387.0 965.7 L401.0 953.6 L416.0 941.8 L432.1 930.3 L449.1 919.0 L467.0 907.9 L485.7 896.9 L505.1 885.9 L525.3 875.2 L546.3 864.8 L568.3 855.2 L591.2 846.5 L615.0 839.2 L639.8 834.1 L665.0 829.3 L690.7 824.9 L716.8 821.8 L743.2 817.8 L769.9 812.6 L797.2 809.5 L825.0 806.0 L853.2 805.5 L880.9 808.4 L908.3 811.6 L935.1 815.9 L961.6 819.5 L987.6 823.8 L1013.1 828.8 L1038.0 834.6 L1062.2 841.3 L1085.9 848.4 L1109.0 855.6 L1131.5 863.2 L1153.3 871.4 L1174.2 880.5 L1193.9 890.7 L1212.5 901.8 L1230.1 913.4 L1246.7 925.6 L1262.1 938.2 L1276.5 951.2 L1289.6 964.7 L1301.5 978.6 L1312.1 992.8 L1321.4 1007.3 L1329.4 1022.1 L1336.0 1037.3 L1341.2 1052.6 L1344.9 1068.2 L1347.2 1084.0 L1348.0 1100.0 L1347.7 1107.8 L1346.8 1115.8 L1345.2 1124.0 L1343.2 1132.4 L1340.6 1140.9 L1337.5 1149.6 L1334.0 1158.4 L1330.1 1167.4 L1325.7 1176.5 L1320.9 1185.7 L1315.4 1194.8 L1309.5 1204.0 L1303.1 1213.2 L1296.6 1222.5 L1289.9 1232.0 L1283.0 1241.5 L1275.7 1251.1 L1268.0 1260.6 L1260.1 1270.1 L1252.0 1279.6 L1243.7 1289.1 L1235.2 1298.6 L1226.6 1308.1 L1217.9 1317.6 L1209.0 1327.0 L1200.1 1336.4 L1191.1 1345.8 L1181.9 1355.0 L1172.6 1364.0 L1163.2 1372.9 L1149.7 1358.2 L1158.9 1349.5 L1167.9 1340.5 L1176.8 1331.3 L1185.5 1322.0 L1194.1 1312.6 L1202.7 1303.2 L1211.1 1293.9 L1219.5 1284.6 L1227.8 1275.3 L1236.0 1266.0 L1243.9 1256.8 L1251.6 1247.6 L1259.0 1238.4 L1266.0 1229.1 L1272.7 1219.9 L1279.1 1210.7 L1285.2 1201.7 L1291.1 1192.8 L1296.5 1184.1 L1301.5 1175.4 L1306.0 1166.8 L1310.0 1158.3 L1313.6 1150.1 L1316.8 1142.1 L1319.6 1134.4 L1321.9 1126.9 L1323.7 1119.7 L1325.0 1112.8 L1325.7 1106.2 L1326.0 1100.0 L1325.4 1086.1 L1323.5 1072.4 L1320.4 1058.7 L1316.0 1045.1 L1310.3 1031.6 L1303.4 1018.1 L1295.2 1004.7 L1285.7 991.4 L1274.9 978.3 L1262.8 965.5 L1249.5 953.0 L1234.9 940.9 L1219.2 929.2 L1202.4 918.0 L1184.5 907.3 L1165.7 897.1 L1145.8 887.5 L1125.2 878.4 L1103.6 869.9 L1081.3 862.0 L1058.3 854.7 L1034.6 847.7 L1010.4 840.9 L985.6 834.5 L960.1 829.0 L934.0 824.8 L906.9 825.8 L879.8 826.7 L852.4 830.4 L825.0 824.0 L797.6 820.0 L770.4 819.9 L743.6 821.7 L717.3 824.9 L691.4 829.1 L666.1 834.2 L641.7 841.5 L618.2 850.3 L594.9 857.9 L572.5 866.5 L551.0 876.2 L530.5 886.6 L510.8 897.4 L491.9 908.3 L473.7 919.1 L456.2 929.8 L439.4 940.5 L423.4 951.2 L408.4 962.2 L394.4 973.5 L381.7 985.1 L370.4 997.0 L360.6 1009.2 L351.9 1021.2 L344.2 1033.0 L337.6 1044.7 L332.2 1056.2 L328.3 1067.6 L325.8 1078.9 L325.0 1090.0 L325.2 1100.2 L325.7 1110.0 L326.7 1119.6 L328.0 1129.0 L329.6 1138.2 L331.6 1147.3 L334.0 1156.2 L336.7 1164.9 L339.8 1173.6 L343.2 1182.2 L347.1 1190.7 L351.3 1199.2 L355.9 1207.7 L360.9 1216.2 L366.2 1224.7 L372.0 1233.2 L378.2 1241.7 L384.8 1250.3 L391.8 1258.9 L399.2 1267.5 L406.9 1276.2 L415.0 1285.1 L423.4 1294.1 L432.2 1303.2 L441.2 1312.6 L450.5 1322.2 L460.1 1332.1 L469.9 1342.3 L480.0 1352.7 L490.3 1363.6Z" fill="#00009A"/>
<path d="M433.8 1378.0 L481.0 1339.6 L486.4 1335.2 L491.8 1330.8 L497.2 1326.5 L502.6 1322.1 L508.1 1317.7 L513.5 1313.4 L518.9 1309.0 L524.4 1304.7 L529.9 1300.3 L535.3 1296.0 L540.8 1291.7 L546.3 1287.4 L551.8 1283.1 L557.3 1278.8 L562.8 1274.5 L568.3 1270.3 L573.9 1266.0 L579.4 1261.8 L585.0 1257.6 L590.6 1253.4 L596.1 1249.2 L601.7 1245.0 L607.3 1240.9 L613.0 1236.7 L618.6 1232.6 L624.2 1228.5 L629.9 1224.4 L635.6 1220.4 L641.3 1216.3 L647.0 1212.3 L652.7 1208.3 L658.4 1204.3 L664.2 1200.4 L669.9 1196.4 L675.7 1192.5 L681.5 1188.7 L687.3 1184.8 L693.1 1181.0 L699.0 1177.2 L704.8 1173.4 L710.7 1169.6 L716.6 1165.9 L722.5 1162.2 L728.4 1158.6 L734.4 1154.9 L740.4 1151.3 L746.3 1147.8 L752.3 1144.2 L758.4 1140.7 L764.4 1137.3 L770.5 1133.8 L776.6 1130.4 L782.7 1127.1 L788.8 1123.7 L794.9 1120.4 L801.1 1117.2 L807.3 1113.9 L813.5 1110.8 L819.7 1107.6 L826.0 1104.5 L825.4 1104.0 L831.4 1107.7 L837.4 1111.3 L843.4 1114.9 L849.4 1118.5 L855.5 1122.0 L861.6 1125.5 L867.7 1129.1 L873.8 1132.6 L879.9 1136.0 L886.0 1139.5 L892.1 1143.0 L898.3 1146.4 L904.4 1149.8 L910.6 1153.3 L916.7 1156.7 L922.9 1160.1 L929.0 1163.6 L935.2 1167.0 L941.3 1170.4 L947.4 1173.9 L953.6 1177.3 L959.7 1180.8 L965.8 1184.3 L971.9 1187.8 L978.0 1191.3 L984.1 1194.8 L990.2 1198.3 L996.2 1201.9 L1002.3 1205.5 L1008.3 1209.1 L1014.3 1212.7 L1020.3 1216.4 L1026.2 1220.1 L1032.1 1223.9 L1038.0 1227.6 L1043.9 1231.5 L1049.8 1235.3 L1055.6 1239.2 L1061.4 1243.2 L1067.1 1247.1 L1072.8 1251.2 L1078.5 1255.3 L1084.2 1259.4 L1089.8 1263.6 L1095.3 1267.8 L1100.9 1272.1 L1106.3 1276.5 L1111.8 1280.9 L1117.2 1285.4 L1122.5 1290.0 L1127.8 1294.6 L1133.0 1299.3 L1138.2 1304.1 L1143.4 1308.9 L1148.5 1313.8 L1153.5 1318.8 L1158.4 1323.9 L1163.4 1329.0 L1168.2 1334.3 L1173.0 1339.6 L1207.0 1378.0 L1222.8 1378.0 L1176.0 1418.0 L1170.7 1422.5 L1165.3 1427.0 L1160.0 1431.5 L1154.6 1436.0 L1149.2 1440.4 L1143.8 1444.9 L1138.3 1449.3 L1132.9 1453.6 L1127.4 1458.0 L1121.9 1462.3 L1116.4 1466.6 L1110.9 1470.9 L1105.4 1475.2 L1099.8 1479.4 L1094.3 1483.6 L1088.7 1487.8 L1083.1 1492.0 L1077.5 1496.1 L1071.8 1500.3 L1066.2 1504.4 L1060.5 1508.5 L1054.8 1512.5 L1049.1 1516.6 L1043.4 1520.6 L1037.7 1524.6 L1031.9 1528.6 L1026.2 1532.6 L1020.4 1536.5 L1014.6 1540.4 L1008.8 1544.3 L1003.0 1548.2 L997.2 1552.1 L991.3 1555.9 L985.5 1559.7 L979.6 1563.5 L973.7 1567.3 L967.8 1571.0 L961.9 1574.8 L956.0 1578.5 L950.1 1582.2 L944.1 1585.9 L938.2 1589.5 L932.2 1593.1 L926.2 1596.8 L920.2 1600.4 L914.2 1603.9 L908.2 1607.5 L902.2 1611.0 L896.1 1614.6 L890.1 1618.1 L884.0 1621.5 L877.9 1625.0 L871.9 1628.4 L865.8 1631.9 L859.7 1635.3 L853.6 1638.6 L847.4 1642.0 L841.3 1645.4 L835.2 1648.7 L829.0 1652.0 L829.0 1652.0 L822.4 1649.5 L815.9 1646.9 L809.4 1644.3 L802.9 1641.6 L796.5 1638.8 L790.1 1636.0 L783.7 1633.1 L777.3 1630.2 L771.0 1627.1 L764.7 1624.1 L758.4 1621.0 L752.2 1617.8 L745.9 1614.6 L739.7 1611.3 L733.6 1608.0 L727.4 1604.6 L721.3 1601.1 L715.2 1597.6 L709.2 1594.1 L703.2 1590.5 L697.2 1586.9 L691.2 1583.2 L685.2 1579.5 L679.3 1575.7 L673.4 1571.9 L667.5 1568.0 L661.7 1564.2 L655.9 1560.2 L650.1 1556.2 L644.3 1552.2 L638.5 1548.2 L632.8 1544.1 L627.1 1539.9 L621.4 1535.8 L615.8 1531.6 L610.2 1527.3 L604.6 1523.1 L599.0 1518.8 L593.4 1514.4 L587.9 1510.1 L582.4 1505.7 L576.9 1501.3 L571.5 1496.8 L566.0 1492.4 L560.6 1487.9 L555.2 1483.3 L549.8 1478.8 L544.5 1474.2 L539.2 1469.6 L533.9 1465.0 L528.6 1460.4 L523.3 1455.8 L518.1 1451.1 L512.9 1446.4 L507.7 1441.7 L502.5 1437.0 L497.3 1432.3 L492.2 1427.5 L487.1 1422.8 L482.0 1418.0 L439.4 1378.0Z" fill="#FEF8F5"/>
<path d="M438.8 1384.2 L486.0 1345.8 L491.4 1341.4 L496.8 1337.0 L502.2 1332.6 L507.5 1328.2 L512.9 1323.8 L518.3 1319.4 L523.7 1315.0 L529.1 1310.6 L534.6 1306.3 L540.0 1302.0 L545.5 1297.7 L551.0 1293.4 L556.5 1289.2 L562.0 1284.9 L567.5 1280.7 L573.1 1276.4 L578.6 1272.2 L584.1 1268.0 L589.7 1263.8 L595.2 1259.5 L600.6 1255.2 L606.0 1250.8 L611.4 1246.4 L616.8 1242.0 L622.3 1237.6 L627.8 1233.4 L633.3 1229.1 L638.9 1225.0 L644.5 1220.9 L650.1 1216.7 L655.5 1212.4 L661.0 1208.0 L666.3 1203.6 L671.8 1199.2 L677.3 1194.8 L682.8 1190.7 L688.6 1186.7 L694.4 1182.9 L700.2 1179.1 L706.1 1175.4 L712.0 1171.7 L717.9 1168.0 L723.8 1164.4 L729.8 1160.8 L735.7 1157.2 L741.7 1153.6 L747.7 1150.0 L753.6 1146.4 L759.6 1142.8 L765.5 1139.2 L771.5 1135.6 L777.5 1132.0 L783.5 1128.5 L789.5 1125.1 L795.7 1121.8 L801.8 1118.5 L807.9 1115.2 L814.1 1111.8 L820.2 1108.6 L826.4 1105.4 L826.4 1105.4 L820.4 1108.9 L814.6 1112.9 L808.9 1117.1 L803.1 1121.0 L797.0 1124.3 L791.1 1128.0 L785.3 1131.9 L779.7 1136.1 L774.2 1140.4 L768.7 1144.8 L763.2 1149.1 L757.6 1153.3 L751.9 1157.2 L746.0 1160.8 L740.2 1164.6 L734.6 1168.6 L729.1 1172.8 L723.7 1177.2 L718.3 1181.6 L712.9 1185.9 L707.4 1190.2 L701.8 1194.3 L696.1 1198.2 L690.5 1202.1 L685.0 1206.3 L679.6 1210.6 L674.2 1215.1 L669.0 1219.6 L663.7 1224.0 L658.3 1228.4 L652.8 1232.6 L647.2 1236.7 L641.7 1240.9 L636.4 1245.3 L631.2 1249.9 L626.1 1254.7 L621.1 1259.5 L616.0 1264.3 L610.9 1269.0 L605.7 1273.5 L600.4 1277.9 L594.9 1282.2 L589.6 1286.5 L584.3 1291.1 L579.2 1295.8 L574.2 1300.6 L569.3 1305.5 L564.3 1310.4 L559.2 1315.1 L554.1 1319.8 L548.8 1324.3 L543.4 1328.6 L538.0 1333.0 L532.7 1337.3 L527.3 1341.7 L522.0 1346.1 L516.6 1350.5 L511.3 1354.9 L505.9 1359.3 L500.6 1363.7 L453.3 1402.1Z" fill="#00009A"/>
<path d="M456.5 1405.9 L503.7 1367.5 L509.1 1363.2 L514.5 1358.8 L519.8 1354.5 L525.2 1350.1 L530.6 1345.8 L536.0 1341.5 L541.4 1337.1 L546.8 1332.8 L552.2 1328.5 L557.5 1324.1 L562.8 1319.7 L568.1 1315.2 L573.3 1310.7 L578.5 1306.1 L583.7 1301.6 L589.0 1297.2 L594.4 1292.8 L599.8 1288.5 L605.2 1284.3 L610.6 1280.1 L616.0 1275.7 L621.3 1271.3 L626.5 1266.8 L631.8 1262.4 L637.1 1258.0 L642.4 1253.6 L647.8 1249.4 L653.4 1245.3 L658.9 1241.3 L664.5 1237.2 L670.0 1233.1 L675.5 1229.0 L681.0 1224.9 L686.5 1220.8 L692.0 1216.8 L697.6 1212.8 L703.3 1209.0 L709.0 1205.3 L714.9 1201.8 L720.9 1198.5 L727.0 1195.3 L733.1 1192.2 L739.2 1189.1 L745.3 1186.0 L751.3 1182.7 L757.2 1179.4 L763.0 1175.9 L768.9 1172.4 L774.7 1169.0 L780.6 1165.6 L786.5 1162.2 L792.3 1158.8 L798.3 1155.5 L804.2 1152.2 L810.2 1149.0 L816.2 1145.9 L822.2 1142.9 L823.1 1144.4 L817.3 1147.9 L811.3 1151.1 L805.4 1154.4 L799.5 1157.7 L793.7 1161.2 L787.8 1164.6 L782.1 1168.2 L776.3 1171.7 L770.5 1175.2 L764.7 1178.7 L758.9 1182.2 L753.0 1185.6 L747.1 1188.9 L741.1 1192.2 L735.1 1195.5 L729.2 1198.7 L723.2 1202.1 L717.3 1205.5 L711.5 1209.1 L705.8 1212.8 L700.1 1216.5 L694.4 1220.4 L688.8 1224.3 L683.2 1228.2 L677.6 1232.2 L672.1 1236.1 L666.5 1240.1 L660.9 1244.1 L655.3 1248.1 L649.8 1252.1 L644.4 1256.3 L639.0 1260.6 L633.7 1265.0 L628.4 1269.3 L623.1 1273.7 L617.8 1278.1 L612.4 1282.4 L607.0 1286.7 L601.5 1290.9 L596.1 1295.1 L590.8 1299.5 L585.5 1303.9 L580.3 1308.4 L575.1 1313.0 L569.9 1317.5 L564.7 1322.0 L559.4 1326.5 L554.1 1330.9 L548.7 1335.2 L543.3 1339.5 L537.9 1343.8 L532.5 1348.1 L527.1 1352.5 L521.7 1356.8 L516.3 1361.1 L511.0 1365.5 L505.6 1369.9 L458.4 1408.3Z" fill="#00009A"/>
<path d="M831.4 1107.7 L837.4 1111.3 L843.4 1114.9 L849.4 1118.5 L855.5 1122.0 L861.6 1125.5 L867.7 1129.1 L873.8 1132.6 L879.9 1136.0 L886.0 1139.5 L892.1 1143.0 L898.3 1146.4 L904.4 1149.8 L910.6 1153.3 L916.7 1156.7 L922.9 1160.1 L929.0 1163.6 L935.2 1167.0 L941.3 1170.4 L947.4 1173.9 L953.6 1177.3 L959.7 1180.8 L965.8 1184.3 L971.9 1187.8 L978.0 1191.3 L984.1 1194.8 L990.2 1198.3 L996.2 1201.9 L1002.3 1205.5 L1008.3 1209.1 L1014.3 1212.7 L1020.3 1216.4 L1026.2 1220.1 L1032.1 1223.9 L1038.0 1227.6 L1043.9 1231.5 L1049.8 1235.3 L1055.6 1239.2 L1061.4 1243.2 L1067.1 1247.1 L1072.8 1251.2 L1078.5 1255.3 L1084.2 1259.4 L1089.7 1263.7 L1095.0 1268.3 L1100.2 1272.9 L1105.3 1277.8 L1110.3 1282.7 L1115.3 1287.6 L1120.2 1292.6 L1125.2 1297.6 L1130.2 1302.5 L1135.2 1307.3 L1140.3 1312.1 L1145.3 1317.0 L1150.2 1322.1 L1155.0 1327.2 L1159.8 1332.4 L1164.5 1337.6 L1169.3 1342.9 L1203.3 1381.3 L1196.6 1387.3 L1162.5 1348.9 L1157.9 1343.7 L1153.2 1338.6 L1148.5 1333.5 L1143.7 1328.5 L1138.8 1323.6 L1133.9 1318.8 L1128.9 1314.1 L1123.9 1309.4 L1119.0 1304.6 L1114.1 1299.8 L1109.1 1294.9 L1104.2 1290.1 L1099.2 1285.4 L1094.1 1280.7 L1089.0 1276.1 L1083.6 1271.7 L1078.2 1267.4 L1072.7 1263.3 L1067.1 1259.3 L1061.5 1255.2 L1055.9 1251.1 L1050.3 1247.1 L1044.6 1243.1 L1038.9 1239.2 L1033.1 1235.3 L1027.3 1231.5 L1021.4 1227.7 L1015.6 1224.0 L1009.7 1220.2 L1003.8 1216.5 L998.0 1212.6 L992.1 1208.9 L986.2 1205.1 L980.2 1201.4 L974.2 1197.9 L968.2 1194.3 L962.1 1190.8 L956.1 1187.1 L950.1 1183.4 L944.1 1179.7 L938.1 1176.1 L932.1 1172.4 L926.1 1168.9 L919.9 1165.4 L913.8 1161.9 L907.8 1158.2 L901.8 1154.5 L895.9 1150.6 L890.0 1146.7 L884.1 1142.8 L878.2 1139.0 L872.2 1135.3 L866.2 1131.7 L860.1 1128.1 L854.2 1124.2 L848.5 1120.1 L842.8 1115.9 L837.1 1111.8 L831.3 1107.8Z" fill="#00009A"/>
<path d="M835.5 1142.2 L842.3 1144.6 L848.9 1147.4 L855.2 1150.7 L861.3 1154.4 L867.3 1158.1 L873.3 1161.9 L879.3 1165.8 L885.2 1169.7 L891.2 1173.5 L897.2 1177.3 L903.2 1180.9 L909.3 1184.4 L915.4 1187.9 L921.4 1191.6 L927.3 1195.4 L933.2 1199.2 L939.1 1203.1 L944.9 1206.9 L950.8 1210.6 L956.8 1214.2 L962.8 1217.7 L968.7 1221.3 L974.5 1225.1 L980.3 1228.9 L985.9 1232.8 L991.6 1236.7 L997.3 1240.6 L1003.0 1244.4 L1008.7 1248.1 L1014.4 1251.7 L1020.1 1255.5 L1025.7 1259.2 L1031.3 1263.1 L1036.8 1267.0 L1042.3 1270.9 L1047.7 1274.9 L1053.2 1278.8 L1058.5 1282.8 L1063.9 1286.7 L1069.2 1290.8 L1074.4 1295.0 L1079.5 1299.2 L1084.5 1303.6 L1089.5 1308.0 L1094.4 1312.4 L1099.3 1316.9 L1104.1 1321.4 L1108.9 1325.9 L1113.7 1330.4 L1118.5 1335.0 L1123.3 1339.5 L1127.9 1344.2 L1132.6 1348.9 L1137.1 1353.7 L1141.6 1358.6 L1146.1 1363.5 L1180.1 1401.9 L1168.1 1412.5 L1134.1 1374.1 L1129.9 1369.3 L1125.8 1364.4 L1121.6 1359.5 L1117.5 1354.6 L1113.2 1349.8 L1108.8 1345.1 L1104.2 1340.7 L1099.5 1336.3 L1094.9 1331.8 L1090.2 1327.4 L1085.6 1322.9 L1080.9 1318.4 L1076.2 1314.0 L1071.3 1309.6 L1066.4 1305.3 L1061.4 1301.2 L1056.2 1297.2 L1050.9 1293.3 L1045.7 1289.3 L1040.5 1285.2 L1035.3 1281.1 L1030.1 1277.0 L1024.8 1272.8 L1019.5 1268.8 L1014.1 1264.9 L1008.5 1261.1 L1002.9 1257.4 L997.2 1253.7 L991.7 1249.7 L986.3 1245.5 L980.9 1241.2 L975.5 1237.0 L970.0 1232.8 L964.3 1228.8 L958.5 1225.1 L952.6 1221.6 L946.7 1217.8 L941.0 1213.9 L935.3 1209.7 L929.7 1205.5 L924.0 1201.3 L918.2 1197.3 L912.4 1193.4 L906.3 1189.8 L900.2 1186.3 L894.3 1182.5 L888.4 1178.4 L882.7 1174.2 L876.9 1170.0 L871.2 1165.8 L865.3 1161.6 L859.4 1157.7 L853.4 1153.9 L847.1 1150.5 L840.8 1147.3 L834.3 1144.2Z" fill="#00009A"/>
<path d="M440.8 1376.5 L483.4 1416.5 L488.5 1421.3 L493.6 1426.1 L498.7 1430.8 L503.8 1435.5 L509.0 1440.2 L514.2 1444.9 L519.4 1449.6 L524.6 1454.3 L529.9 1458.9 L535.1 1463.6 L540.4 1468.2 L545.6 1472.9 L550.9 1477.6 L556.2 1482.2 L561.4 1486.9 L566.8 1491.4 L572.1 1496.0 L577.6 1500.5 L583.0 1504.9 L588.5 1509.3 L594.0 1513.7 L599.5 1518.2 L604.9 1522.6 L610.4 1527.0 L616.0 1531.4 L621.5 1535.7 L627.1 1539.9 L632.8 1544.1 L638.5 1548.2 L644.3 1552.2 L650.1 1556.2 L655.9 1560.2 L661.7 1564.2 L667.5 1568.0 L673.4 1571.9 L679.3 1575.7 L685.2 1579.5 L691.2 1583.2 L697.2 1586.9 L703.2 1590.5 L709.2 1594.1 L715.2 1597.6 L721.3 1601.1 L727.4 1604.6 L733.6 1608.0 L739.7 1611.3 L745.9 1614.6 L752.2 1617.8 L758.4 1621.0 L764.7 1624.1 L771.0 1627.1 L777.3 1630.2 L783.7 1633.1 L790.1 1636.0 L796.5 1638.8 L802.9 1641.6 L809.4 1644.3 L815.9 1646.9 L822.4 1649.5 L822.7 1648.9 L816.7 1644.9 L810.9 1640.6 L805.0 1636.8 L798.7 1633.7 L792.4 1630.7 L786.3 1627.2 L780.4 1623.5 L774.6 1619.7 L768.8 1615.7 L763.0 1611.8 L757.2 1608.1 L751.2 1604.5 L745.1 1601.2 L739.1 1597.9 L733.1 1594.4 L727.2 1590.8 L721.3 1587.1 L715.5 1583.4 L709.7 1579.6 L703.9 1575.9 L698.0 1572.2 L692.2 1568.5 L686.4 1564.6 L680.8 1560.6 L675.2 1556.5 L669.7 1552.2 L664.2 1547.9 L658.8 1543.6 L653.3 1539.3 L647.8 1535.2 L642.2 1531.1 L636.6 1526.9 L631.2 1522.5 L625.9 1518.0 L620.7 1513.4 L615.6 1508.7 L610.4 1504.0 L605.2 1499.4 L600.0 1494.9 L594.6 1490.5 L589.2 1486.1 L584.0 1481.5 L578.9 1476.8 L573.8 1472.0 L568.8 1467.2 L563.9 1462.3 L558.9 1457.4 L553.9 1452.6 L548.9 1447.8 L543.8 1443.2 L538.6 1438.6 L533.5 1433.9 L528.4 1429.2 L523.4 1424.4 L518.4 1419.6 L513.4 1414.8 L508.4 1410.0 L503.4 1405.2 L498.4 1400.5 L455.8 1360.5Z" fill="#00009A"/>
<path d="M458.6 1357.6 L501.2 1397.6 L506.2 1402.3 L511.2 1407.1 L516.1 1411.9 L521.1 1416.7 L526.1 1421.5 L531.1 1426.2 L536.1 1430.9 L541.2 1435.6 L546.4 1440.1 L551.6 1444.7 L556.9 1449.1 L562.2 1453.6 L567.6 1457.9 L572.9 1462.3 L578.3 1466.6 L583.7 1470.9 L589.1 1475.2 L594.5 1479.5 L599.9 1483.8 L605.4 1488.1 L610.9 1492.1 L616.6 1496.1 L622.3 1499.9 L628.1 1503.6 L633.9 1507.4 L639.6 1511.2 L645.3 1515.0 L650.9 1518.9 L656.5 1522.9 L662.0 1527.0 L667.4 1531.1 L672.9 1535.2 L678.4 1539.3 L683.9 1543.4 L689.4 1547.3 L695.0 1551.2 L700.7 1555.0 L706.5 1558.6 L712.1 1562.3 L717.8 1566.1 L723.4 1570.0 L729.0 1573.9 L734.6 1577.7 L740.3 1581.4 L746.1 1585.0 L752.0 1588.4 L758.0 1591.5 L764.1 1594.6 L770.2 1597.6 L776.3 1600.4 L782.5 1603.2 L788.6 1606.0 L794.8 1608.7 L801.0 1611.4 L807.2 1614.0 L813.6 1616.4 L820.4 1617.5 L822.6 1612.2 L816.5 1609.4 L810.4 1606.7 L804.4 1603.8 L798.5 1600.6 L792.8 1597.2 L787.1 1593.6 L781.4 1590.0 L775.8 1586.4 L770.1 1582.9 L764.3 1579.5 L758.4 1576.4 L752.7 1573.0 L747.0 1569.4 L741.5 1565.6 L736.0 1561.7 L730.6 1557.8 L725.1 1553.9 L719.7 1550.0 L714.1 1546.3 L708.4 1542.7 L702.9 1539.0 L697.4 1535.1 L692.0 1531.0 L686.7 1526.9 L681.4 1522.7 L676.1 1518.5 L670.8 1514.4 L665.4 1510.3 L660.0 1506.3 L654.6 1502.3 L649.3 1498.1 L644.0 1493.8 L638.9 1489.4 L633.8 1485.0 L628.6 1480.5 L623.5 1476.1 L618.3 1471.7 L613.0 1467.5 L607.8 1463.2 L602.5 1458.8 L597.3 1454.4 L592.2 1450.0 L587.1 1445.5 L582.0 1441.0 L576.9 1436.5 L571.8 1431.9 L566.7 1427.4 L561.6 1422.9 L556.5 1418.4 L551.4 1413.8 L546.3 1409.3 L541.3 1404.7 L536.2 1400.1 L531.2 1395.5 L526.2 1390.9 L521.2 1386.2 L516.2 1381.6 L473.6 1341.6Z" fill="#00009A"/>
<path d="M829.0 1652.0 L835.1 1648.6 L841.1 1645.1 L847.1 1641.4 L853.0 1637.7 L859.0 1634.1 L865.1 1630.6 L871.2 1627.2 L877.2 1623.7 L883.2 1620.1 L889.2 1616.5 L895.1 1612.9 L901.1 1609.2 L907.1 1605.6 L913.0 1601.9 L919.0 1598.3 L925.0 1594.7 L930.8 1590.8 L936.5 1586.8 L942.2 1582.7 L947.8 1578.4 L953.3 1574.2 L959.0 1570.1 L964.7 1566.1 L970.5 1562.2 L976.4 1558.5 L982.2 1554.7 L988.1 1551.0 L994.0 1547.2 L999.8 1543.4 L1005.6 1539.6 L1011.5 1535.7 L1017.2 1531.9 L1023.0 1527.9 L1028.7 1524.0 L1034.4 1520.0 L1040.1 1515.9 L1045.7 1511.8 L1051.3 1507.6 L1056.9 1503.5 L1062.5 1499.3 L1068.0 1495.1 L1073.6 1490.9 L1079.2 1486.8 L1084.8 1482.6 L1090.3 1478.4 L1095.9 1474.2 L1101.4 1470.0 L1106.9 1465.8 L1112.4 1461.5 L1117.9 1457.2 L1123.4 1452.9 L1128.8 1448.5 L1134.3 1444.2 L1139.7 1439.8 L1145.1 1435.5 L1150.6 1431.1 L1156.0 1426.8 L1161.4 1422.4 L1166.8 1417.9 L1172.1 1413.4 L1218.9 1373.4 L1213.7 1367.4 L1166.9 1407.4 L1161.6 1411.9 L1156.3 1416.3 L1151.0 1420.8 L1145.7 1425.2 L1140.3 1429.6 L1135.0 1434.0 L1129.6 1438.3 L1124.1 1442.7 L1118.6 1446.9 L1113.1 1451.0 L1107.5 1455.1 L1101.9 1459.2 L1096.2 1463.2 L1090.6 1467.2 L1084.9 1471.2 L1079.3 1475.3 L1073.7 1479.4 L1068.2 1483.5 L1062.6 1487.7 L1057.1 1491.9 L1051.6 1496.0 L1046.0 1500.2 L1040.5 1504.4 L1034.9 1508.5 L1029.3 1512.6 L1023.6 1516.6 L1017.9 1520.5 L1012.2 1524.5 L1006.5 1528.4 L1000.8 1532.3 L995.1 1536.3 L989.3 1540.2 L983.6 1544.1 L977.8 1547.9 L972.0 1551.7 L966.2 1555.5 L960.4 1559.3 L954.8 1563.4 L949.2 1567.6 L943.7 1571.9 L938.2 1576.2 L932.6 1580.4 L926.9 1584.5 L921.1 1588.3 L915.2 1592.0 L909.4 1595.8 L903.7 1599.8 L898.1 1604.0 L892.5 1608.3 L887.0 1612.6 L881.4 1616.9 L875.7 1621.0 L869.8 1624.8 L863.8 1628.4 L857.9 1632.0 L852.1 1636.0 L846.5 1640.3 L840.8 1644.5 L835.0 1648.5 L829.0 1652.0Z" fill="#00009A"/>
<path d="M832.5 1614.8 L839.1 1612.4 L845.4 1609.7 L851.6 1606.6 L857.7 1603.3 L863.8 1600.2 L870.1 1597.2 L876.4 1594.3 L882.7 1591.4 L889.0 1588.5 L895.2 1585.5 L901.4 1582.3 L907.4 1578.9 L913.3 1575.3 L918.9 1571.3 L924.4 1567.0 L929.7 1562.5 L935.0 1557.9 L940.2 1553.3 L945.6 1548.8 L951.1 1544.6 L956.8 1540.7 L962.5 1537.0 L968.3 1533.2 L974.0 1529.4 L979.7 1525.6 L985.4 1521.7 L991.1 1517.8 L996.8 1514.0 L1002.4 1510.1 L1008.1 1506.2 L1013.8 1502.3 L1019.4 1498.4 L1025.1 1494.5 L1030.7 1490.6 L1036.4 1486.6 L1042.0 1482.7 L1047.6 1478.7 L1053.2 1474.7 L1058.7 1470.7 L1064.2 1466.6 L1069.7 1462.5 L1075.2 1458.4 L1080.6 1454.2 L1086.1 1450.0 L1091.5 1445.7 L1096.9 1441.5 L1102.2 1437.2 L1107.6 1432.9 L1112.9 1428.6 L1118.3 1424.3 L1123.6 1420.0 L1128.9 1415.7 L1134.2 1411.3 L1139.5 1406.9 L1144.7 1402.5 L1150.0 1398.1 L1155.2 1393.7 L1202.0 1353.7 L1189.0 1338.5 L1142.2 1378.5 L1137.1 1382.9 L1132.1 1387.5 L1127.2 1392.2 L1122.2 1396.8 L1117.3 1401.4 L1112.2 1406.0 L1107.0 1410.3 L1101.7 1414.6 L1096.5 1418.9 L1091.3 1423.3 L1086.1 1427.7 L1081.0 1432.2 L1075.8 1436.6 L1070.6 1441.0 L1065.3 1445.3 L1060.0 1449.5 L1054.6 1453.6 L1049.1 1457.7 L1043.8 1461.9 L1038.5 1466.1 L1033.2 1470.5 L1027.9 1474.8 L1022.6 1479.1 L1017.3 1483.3 L1011.8 1487.5 L1006.3 1491.5 L1000.7 1495.4 L995.2 1499.4 L989.7 1503.5 L984.3 1507.6 L978.8 1511.8 L973.4 1516.0 L968.0 1520.2 L962.4 1524.2 L956.8 1528.1 L951.1 1531.9 L945.5 1535.8 L940.1 1540.2 L935.0 1544.8 L929.9 1549.7 L924.8 1554.5 L919.7 1559.3 L914.4 1563.8 L908.8 1567.9 L903.0 1571.5 L897.1 1575.1 L891.2 1578.6 L885.3 1582.2 L879.4 1585.7 L873.5 1589.3 L867.6 1592.8 L861.6 1596.2 L855.6 1599.7 L849.7 1603.1 L843.6 1606.4 L837.6 1609.8 L831.6 1613.1Z" fill="#00009A"/>
<path d="M524.5 1378.0 L557.0 1346.6 L563.2 1340.7 L569.3 1334.9 L575.6 1329.1 L581.9 1323.3 L588.2 1317.6 L594.6 1312.0 L601.0 1306.3 L607.5 1300.8 L614.0 1295.3 L620.5 1289.8 L627.1 1284.3 L633.7 1278.9 L640.3 1273.6 L647.0 1268.3 L653.7 1263.0 L660.5 1257.8 L667.2 1252.6 L674.0 1247.4 L680.9 1242.3 L687.7 1237.2 L694.6 1232.1 L701.5 1227.1 L708.5 1222.1 L715.4 1217.1 L722.4 1212.2 L729.4 1207.3 L736.4 1202.4 L743.5 1197.6 L750.5 1192.8 L757.6 1188.0 L764.7 1183.2 L771.8 1178.5 L778.9 1173.7 L786.0 1169.0 L793.2 1164.4 L800.3 1159.7 L807.5 1155.1 L814.7 1150.5 L821.8 1145.9 L829.0 1141.3 L829.0 1141.3 L836.2 1146.1 L843.4 1150.8 L850.7 1155.6 L857.9 1160.3 L865.2 1165.0 L872.5 1169.7 L879.7 1174.4 L887.0 1179.1 L894.3 1183.8 L901.6 1188.5 L908.9 1193.3 L916.2 1198.0 L923.5 1202.7 L930.7 1207.5 L938.0 1212.3 L945.2 1217.1 L952.4 1221.9 L959.6 1226.8 L966.8 1231.7 L974.0 1236.6 L981.1 1241.6 L988.2 1246.6 L995.2 1251.6 L1002.2 1256.7 L1009.2 1261.8 L1016.2 1267.0 L1023.1 1272.2 L1029.9 1277.5 L1036.7 1282.9 L1043.5 1288.3 L1050.1 1293.8 L1056.8 1299.4 L1063.4 1305.0 L1069.9 1310.7 L1076.3 1316.5 L1082.7 1322.3 L1089.0 1328.3 L1095.3 1334.3 L1101.4 1340.4 L1107.5 1346.6 L1137.9 1378.0 L1137.9 1378.0 L1105.0 1409.5 L1098.7 1415.4 L1092.4 1421.4 L1086.1 1427.2 L1079.7 1433.1 L1073.3 1438.9 L1066.9 1444.6 L1060.4 1450.4 L1053.9 1456.1 L1047.3 1461.7 L1040.7 1467.3 L1034.1 1472.9 L1027.4 1478.5 L1020.7 1484.0 L1014.0 1489.4 L1007.2 1494.8 L1000.4 1500.2 L993.6 1505.5 L986.7 1510.8 L979.8 1516.1 L972.9 1521.3 L965.9 1526.5 L958.9 1531.6 L951.9 1536.7 L944.9 1541.7 L937.8 1546.7 L930.6 1551.7 L923.5 1556.6 L916.3 1561.4 L909.1 1566.2 L901.9 1571.0 L894.6 1575.7 L887.3 1580.4 L880.0 1585.0 L872.6 1589.6 L865.3 1594.1 L857.9 1598.6 L850.4 1603.0 L843.0 1607.4 L835.5 1611.7 L828.0 1616.0 L828.0 1616.0 L820.5 1611.8 L813.1 1607.5 L805.7 1603.2 L798.3 1598.9 L790.9 1594.4 L783.6 1590.0 L776.3 1585.4 L769.0 1580.8 L761.7 1576.2 L754.5 1571.5 L747.3 1566.8 L740.2 1562.0 L733.1 1557.1 L726.0 1552.2 L718.9 1547.3 L711.9 1542.3 L704.9 1537.3 L697.9 1532.2 L691.0 1527.1 L684.1 1521.9 L677.2 1516.7 L670.4 1511.4 L663.6 1506.1 L656.9 1500.7 L650.1 1495.3 L643.5 1489.9 L636.8 1484.4 L630.2 1478.9 L623.6 1473.3 L617.1 1467.7 L610.6 1462.0 L604.2 1456.3 L597.8 1450.6 L591.4 1444.8 L585.0 1439.0 L578.8 1433.2 L572.5 1427.3 L566.3 1421.4 L560.1 1415.5 L554.0 1409.5 L521.9 1378.0Z" fill="#CC33FF"/>
<rect x="0" y="1347" width="1703" height="62" fill="#00009A"/>
<text x="141.0" y="296.5" textLength="324" lengthAdjust="spacingAndGlyphs" font-size="156" fill="#FFFFFF" font-weight="bold" >Which</text>
<text x="493.8" y="296.5" textLength="491.3" lengthAdjust="spacingAndGlyphs" font-size="156" fill="#FFFFFF" font-weight="bold" >Numbers</text>
<text x="1015.9" y="296.5" textLength="178.3" lengthAdjust="spacingAndGlyphs" font-size="156" fill="#FFFFFF" font-weight="bold" >are</text>
<text x="1228.3" y="296.5" textLength="302" lengthAdjust="spacingAndGlyphs" font-size="156" fill="#FFFFFF" font-weight="bold" >Real?</text>
<text x="142.5" y="296.5" textLength="324" lengthAdjust="spacingAndGlyphs" font-size="156" fill="#FFFFFF" font-weight="bold" >Which</text>
<text x="495.3" y="296.5" textLength="491.3" lengthAdjust="spacingAndGlyphs" font-size="156" fill="#FFFFFF" font-weight="bold" >Numbers</text>
<text x="1017.4" y="296.5" textLength="178.3" lengthAdjust="spacingAndGlyphs" font-size="156" fill="#FFFFFF" font-weight="bold" >are</text>
<text x="1229.8" y="296.5" textLength="302" lengthAdjust="spacingAndGlyphs" font-size="156" fill="#FFFFFF" font-weight="bold" >Real?</text>
<text x="144.0" y="296.5" textLength="324" lengthAdjust="spacingAndGlyphs" font-size="156" fill="#FFFFFF" font-weight="bold" >Which</text>
<text x="496.8" y="296.5" textLength="491.3" lengthAdjust="spacingAndGlyphs" font-size="156" fill="#FFFFFF" font-weight="bold" >Numbers</text>
<text x="1018.9" y="296.5" textLength="178.3" lengthAdjust="spacingAndGlyphs" font-size="156" fill="#FFFFFF" font-weight="bold" >are</text>
<text x="1231.3" y="296.5" textLength="302" lengthAdjust="spacingAndGlyphs" font-size="156" fill="#FFFFFF" font-weight="bold" >Real?</text>
<text x="575.5" y="735" textLength="510" lengthAdjust="spacingAndGlyphs" font-size="51" fill="#720A08" font-weight="normal" stroke="#720A08" stroke-width="0.9">THE SURREAL NUMBERS</text>
<text x="549.5" y="1017" textLength="561.5" lengthAdjust="spacingAndGlyphs" font-size="51" fill="#E83A0C" font-weight="normal" stroke="#E83A0C" stroke-width="0.9">THE HYPERREAL NUMBERS</text>
<text x="536" y="1395" textLength="592" lengthAdjust="spacingAndGlyphs" font-size="51" fill="#FFFFFF" font-weight="normal" stroke="#FFFFFF" stroke-width="0.9">THE CONSTRUCTIVE REALS</text>
<text x="562.5" y="1772" textLength="535.5" lengthAdjust="spacingAndGlyphs" font-size="51" fill="#2C9C58" font-weight="normal" stroke="#2C9C58" stroke-width="0.9">THE COMPLEX NUMBERS</text>
<text x="622" y="2057" textLength="416.5" lengthAdjust="spacingAndGlyphs" font-size="51" fill="#0C2870" font-weight="normal" stroke="#0C2870" stroke-width="0.9">THE QUATERNIONS</text>
<text x="632.5" y="408.5" textLength="225" lengthAdjust="spacingAndGlyphs" fill="#FFFFFF" stroke="#FFFFFF" stroke-width="0.7" font-size="48"><tspan font-size="61">M</tspan>ICHAEL</text>
<text x="871" y="408.5" textLength="163" lengthAdjust="spacingAndGlyphs" fill="#FFFFFF" stroke="#FFFFFF" stroke-width="0.7" font-size="48"><tspan font-size="61">H</tspan>ENLE</text>
<path d="M1368.4 2231.5 L1326.9 2255.6 L1368.8 2279.6Z" fill="#FFFFFF" fill-opacity="0.42"/>
<path d="M1368.4 2231.5 L1401.1 2255.6 L1368.8 2279.6Z" fill="#FFFFFF" fill-opacity="0.5"/>
<path d="M1377.1 2215.8 L1401.1 2255.6 L1368.4 2231.5Z" fill="#FFFFFF" fill-opacity="0.38"/>
<path d="M1326.9 2255.6 L1368.8 2279.6 L1330.6 2296.2Z" fill="#FFFFFF" fill-opacity="0.36"/>
<path d="M1368.8 2279.6 L1330.6 2296.2 L1377.9 2296.2Z" fill="#FFFFFF" fill-opacity="0.88"/>
<path d="M1368.8 2279.6 L1401.1 2255.6 L1377.9 2296.2Z" fill="#FFFFFF" fill-opacity="0.35"/>
<path d="M1307.8 2256.4 L1326.9 2255.6 L1330.6 2296.2Z" fill="#FFFFFF" fill-opacity="0.25"/>
<path d="M1330.6 2215.8 L1377.1 2215.8 M1377.1 2215.8 L1401.1 2255.6 M1401.1 2255.6 L1377.9 2296.2 M1377.9 2296.2 L1330.6 2296.2 M1330.6 2296.2 L1307.8 2256.4 M1307.8 2256.4 L1330.6 2215.8 M1330.6 2215.8 L1368.4 2231.5 M1377.1 2215.8 L1368.4 2231.5 M1401.1 2255.6 L1368.4 2231.5 M1368.4 2231.5 L1326.9 2255.6 M1368.4 2231.5 L1368.8 2279.6 M1326.9 2255.6 L1368.8 2279.6 M1326.9 2255.6 L1330.6 2215.8 M1326.9 2255.6 L1307.8 2256.4 M1326.9 2255.6 L1330.6 2296.2 M1368.8 2279.6 L1330.6 2296.2 M1368.8 2279.6 L1377.9 2296.2 M1368.8 2279.6 L1401.1 2255.6" stroke="#DCE0FA" stroke-width="1.6" fill="none" stroke-linecap="round"/>
<circle cx="1389" cy="2292" r="3.3" fill="none" stroke="#DCE0FA" stroke-width="1"/>
<text x="1417" y="2297.5" textLength="138" lengthAdjust="spacingAndGlyphs" font-size="99.6" fill="#E9E9F8" font-weight="bold" >MAA</text>
<text x="1418" y="2297.5" textLength="138" lengthAdjust="spacingAndGlyphs" font-size="99.6" fill="#E9E9F8" font-weight="bold" >MAA</text>
<text x="1419" y="2297.5" textLength="138" lengthAdjust="spacingAndGlyphs" font-size="99.6" fill="#E9E9F8" font-weight="bold" >MAA</text>
<text x="1420" y="2297.5" textLength="138" lengthAdjust="spacingAndGlyphs" font-size="99.6" fill="#E9E9F8" font-weight="bold" >MAA</text>
<text x="1421" y="2297.5" textLength="138" lengthAdjust="spacingAndGlyphs" font-size="99.6" fill="#E9E9F8" font-weight="bold" >MAA</text>
<text x="1350" y="2358.5" textLength="166" lengthAdjust="spacingAndGlyphs" font-size="28.3" fill="#F4F4FC" font-weight="bold" >CLASSROOM</text>
<text x="1282" y="2397" textLength="136.6" lengthAdjust="spacingAndGlyphs" font-size="28.3" fill="#F4F4FC" font-weight="bold" >RESOURCE</text>
<text x="1436.5" y="2397" textLength="147" lengthAdjust="spacingAndGlyphs" font-size="28.3" fill="#F4F4FC" font-weight="bold" >MATERIALS</text>
<rect x="0" y="2557" width="1703" height="3" fill="#FDFEFF"/><rect x="1672" y="2557" width="2" height="3" fill="#1A1A2A"/>

</svg>
</body></html>
